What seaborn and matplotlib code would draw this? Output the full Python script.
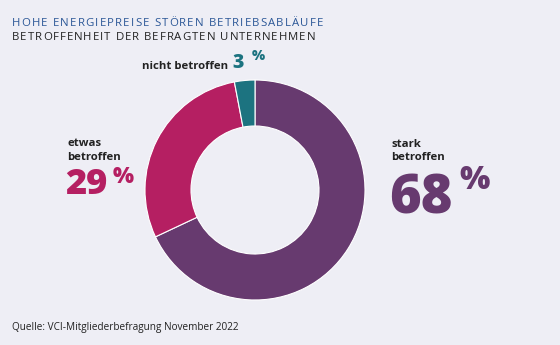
import matplotlib
matplotlib.use("Agg")
import matplotlib.pyplot as plt
import seaborn as sns

categories = ["stark betroffen", "etwas betroffen", "nicht betroffen"]
values = [68, 29, 3]
colors = ["#673a6f", "#b51f62", "#1c7380"]
title = "HOHE ENERGIEPREISE STÖREN BETRIEBSABLÄUFE"
subtitle = "BETROFFENHEIT DER BEFRAGTEN UNTERNEHMEN"
source = "Quelle: VCI-Mitgliederbefragung November 2022"

sns.set_theme(style="white")
plt.rcParams['font.family'] = ['Open Sans', 'DejaVu Sans']
bg = "#eeeef5"
dark = "#222222"

W, H = 560, 345
fig = plt.figure(figsize=(W / 100, H / 100), dpi=100, facecolor=bg)
ax = fig.add_axes([0, 0, 1, 1])
ax.set_facecolor(bg)

cx, cy, R = 255, H - 190, 110
ax.pie(values, colors=colors, startangle=90, counterclock=False,
       center=(cx, cy), radius=R,
       wedgeprops=dict(width=46, edgecolor="white", linewidth=0.8))
ax.set_xlim(0, W)
ax.set_ylim(0, H)
ax.set_aspect("equal")
ax.axis("off")

renderer = fig.canvas.get_renderer()


def y(px):
    return H - px


def spaced_text(x0, ypx, s, target_w, **kw):
    """Draw text with letter spacing so that it spans target_w pixels."""
    def width(sub):
        if not sub:
            return 0.0
        t = ax.text(0, 0, sub, **kw)
        w = t.get_window_extent(renderer).width
        t.remove()
        return w
    full = width(s)
    extra = (target_w - full) / max(len(s) - 1, 1)
    for i, ch in enumerate(s):
        if ch == " ":
            continue
        ax.text(x0 + width(s[:i]) + i * extra, y(ypx), ch, va="baseline", ha="left", **kw)


spaced_text(12, 26, title, 311, fontsize=8.2, color="#2b5797")
spaced_text(12, 39.5, subtitle, 303, fontsize=8.2, color=dark)
ax.text(12, y(330), source, fontsize=7.2, color=dark, va="baseline", ha="left")

lab = dict(fontsize=8.2, fontweight="bold", color=dark, va="baseline", ha="left")
big = dict(fontweight="heavy", va="baseline", ha="left")
# stark betroffen
w1, w2 = categories[0].split(" ")
ax.text(391, y(147), w1, **lab)
ax.text(391, y(160), w2, **lab)
ax.text(389, y(213), f"{values[0]}", fontsize=39, color=colors[0], **big)
ax.text(459, y(189), "%", fontsize=23, color=colors[0], **big)
# etwas betroffen
w1, w2 = categories[1].split(" ")
ax.text(67, y(146), w1, **lab)
ax.text(67, y(160), w2, **lab)
ax.text(65, y(194.5), f"{values[1]}", fontsize=26, color=colors[1], **big)
ax.text(113, y(183), "%", fontsize=16, color=colors[1], **big)
# nicht betroffen
ax.text(142, y(69), categories[2], **lab)
ax.text(232, y(68.5), f"{values[2]}", fontsize=14, color=colors[2], **big)
ax.text(252, y(60), "%", fontsize=10, color=colors[2], **big)

fig.savefig("out.png", dpi=100, facecolor=bg)
